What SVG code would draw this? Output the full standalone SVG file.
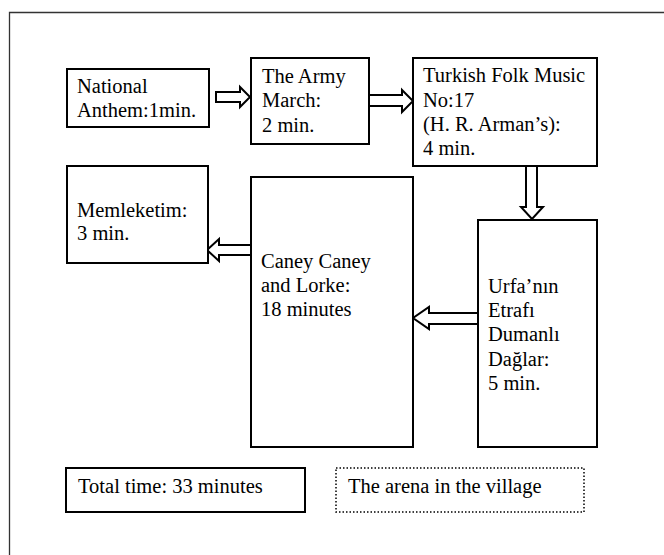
<svg xmlns="http://www.w3.org/2000/svg" width="664" height="555" viewBox="0 0 664 555">
<style>
.box{fill:#fff;stroke:#000;stroke-width:2}
.dot{fill:#fff;stroke:#000;stroke-width:1.5;stroke-dasharray:1.5 2}
.arr{fill:#fff;stroke:#000;stroke-width:2;stroke-linejoin:miter}
.frame{fill:none;stroke:#333;stroke-width:1.3}
text{font-family:"Liberation Serif","Times New Roman",serif;font-size:20.5px;fill:#000}
</style>
<rect width="664" height="555" fill="#fff"/>
<path class="frame" d="M9.5,560 V12.5 H670"/>
<g id="connectors">
<polygon class="arr" points="216,92 240,92 240,87 250,97 240,107 240,102 216,102"/>
<polygon class="arr" points="369,95 402,95 402,90 413,101 402,112 402,106 369,106"/>
<polygon class="arr" points="526,166 526,207 521,207 532,219 543,207 537,207 537,166"/>
<polygon class="arr" points="251,245 219,245 219,239 207,250 219,261 219,255 251,255"/>
<polygon class="arr" points="478,313 429,313 429,307 413,318 429,329 429,324 478,324"/>
</g>
<g id="national">
<rect class="box" x="67" y="69" width="142" height="58"/>
<text x="77" y="93">National</text>
<text x="77" y="117">Anthem:1min.</text>
</g>
<g id="army">
<rect class="box" x="251" y="58" width="118" height="86"/>
<text x="262" y="83">The Army</text>
<text x="262" y="107">March:</text>
<text x="262" y="132">2 min.</text>
</g>
<g id="turkish">
<rect class="box" x="413" y="58" width="184" height="108"/>
<text x="423" y="82">Turkish Folk Music</text>
<text x="423" y="106.5">No:17</text>
<text x="423" y="131">(H. R. Arman’s):</text>
<text x="423" y="155">4 min.</text>
</g>
<g id="memleketim">
<rect class="box" x="67" y="166" width="141" height="97"/>
<text x="77" y="217">Memleketim:</text>
<text x="77" y="240">3 min.</text>
</g>
<g id="caney">
<rect class="box" x="251" y="177" width="162" height="270"/>
<text x="261" y="268">Caney Caney</text>
<text x="261" y="292">and Lorke:</text>
<text x="261" y="316">18 minutes</text>
</g>
<g id="urfa">
<rect class="box" x="478" y="220" width="119" height="227"/>
<text x="488" y="293">Urfa’nın</text>
<text x="488" y="317">Etrafı</text>
<text x="488" y="341">Dumanlı</text>
<text x="488" y="366">Dağlar:</text>
<text x="488" y="390">5 min.</text>
</g>
<g id="total">
<rect class="box" x="66" y="468" width="239" height="44"/>
<text x="78" y="493">Total time: 33 minutes</text>
</g>
<g id="arena">
<rect class="dot" x="336" y="468" width="248" height="44"/>
<text x="348" y="493">The arena in the village</text>
</g>
</svg>
